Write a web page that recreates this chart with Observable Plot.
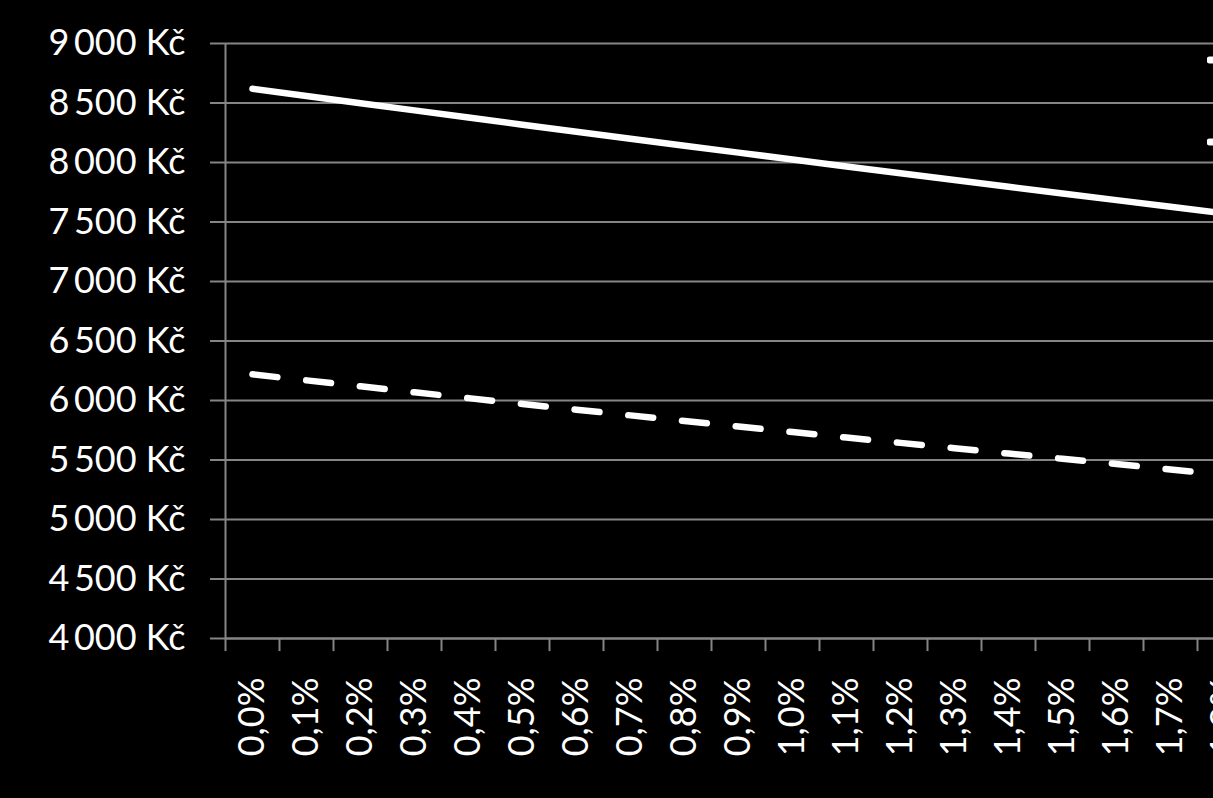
<!DOCTYPE html>
<html>
<head>
<meta charset="utf-8">
<script src="https://cdn.jsdelivr.net/npm/d3@7"></script>
<script src="https://cdn.jsdelivr.net/npm/@observablehq/plot@0.6"></script>
<style>
  html, body { margin: 0; padding: 0; background: #000; overflow: hidden; }
  #wrap { position: relative; width: 1213px; height: 798px; overflow: hidden; background: #000; }
  #chart svg { max-width: none !important; display: block; }
  #legend { position: absolute; left: 1207px; top: 0; font-family: Lato, sans-serif; font-size: 36px; color: #fff; white-space: nowrap; }
  #legend .item { position: absolute; left: 0; display: flex; align-items: center; gap: 10px; }
</style>
</head>
<body>
<div id="wrap">
  <div id="chart"></div>
  <div id="legend"></div>
</div>
<script>
const categories = ["0,0%","0,1%","0,2%","0,3%","0,4%","0,5%","0,6%","0,7%","0,8%","0,9%","1,0%","1,1%","1,2%","1,3%","1,4%","1,5%","1,6%","1,7%","1,8%"];
const seriesNames = ["Řada1", "Řada2"];
const solidValues = [8620,8559,8498,8438,8378,8318,8259,8200,8141,8083,8025,7967,7910,7853,7796,7740,7684,7628,7573];
const dashedValues = [6220,6169,6119,6069,6020,5971,5923,5875,5828,5781,5735,5689,5644,5599,5554,5510,5466,5420,5375];
const yTicks = [4000,4500,5000,5500,6000,6500,7000,7500,8000,8500,9000];

const solid = categories.map((c, i) => ({cat: c, value: solidValues[i]}));
const dashed = categories.map((c, i) => ({cat: c, value: dashedValues[i]}));

const fmt = d => d3.format(",")(d).replace(/,/g, "\u2009") + " Kč";
const grid = "#858585";
const bandHalf = 27;

const chart = Plot.plot({
  width: 1260,
  height: 798,
  marginLeft: 225,
  marginRight: 9,
  marginTop: 43,
  marginBottom: 160,
  style: {background: "#000", color: "#fff", fontFamily: "Lato, sans-serif", fontSize: "36px", maxWidth: "none"},
  x: {type: "band", domain: categories, padding: 0, axis: null, label: null},
  y: {domain: [4000, 9000], axis: null, label: null},
  marks: [
    Plot.gridY(yTicks, {stroke: grid, strokeOpacity: 1, strokeWidth: 2}),
    Plot.axisY(yTicks, {label: null, tickSize: 15, tickPadding: 25, tickFormat: fmt, stroke: grid, strokeWidth: 2, fill: "#fff", fontSize: 36}),
    Plot.ruleY([4000], {stroke: grid, strokeWidth: 2}),
    Plot.ruleX(categories, {x: d => d, dx: -bandHalf, y1: 4000, y2: 3890, stroke: grid, strokeWidth: 2}),
    Plot.ruleX([categories[0]], {x: d => d, dx: -bandHalf, y1: 4000, y2: 9000, stroke: grid, strokeWidth: 2}),
    Plot.axisX(categories, {label: null, tickSize: 0, tickPadding: 39, tickRotate: -90, fill: "#fff", fontSize: 36}),
    Plot.line(solid, {x: "cat", y: "value", stroke: "#fff", strokeWidth: 6.5, strokeLinecap: "round", strokeLinejoin: "round"}),
    Plot.line(dashed, {x: "cat", y: "value", stroke: "#fff", strokeWidth: 6.5, strokeLinecap: "round", strokeLinejoin: "round", strokeDasharray: "25,29"})
  ]
});
document.getElementById("chart").appendChild(chart);

const legend = document.getElementById("legend");
const styles = [null, "14,16"];
seriesNames.forEach((name, i) => {
  const item = document.createElement("div");
  item.className = "item";
  item.style.top = (i === 0 ? 38 : 120) + "px";
  item.innerHTML = `<svg width="60" height="40"><line x1="3" y1="20" x2="57" y2="20" stroke="#fff" stroke-width="7" stroke-linecap="round" ${styles[i] ? `stroke-dasharray="${styles[i]}"` : ""}/></svg><span>${name}</span>`;
  legend.appendChild(item);
});
</script>
</body>
</html>
